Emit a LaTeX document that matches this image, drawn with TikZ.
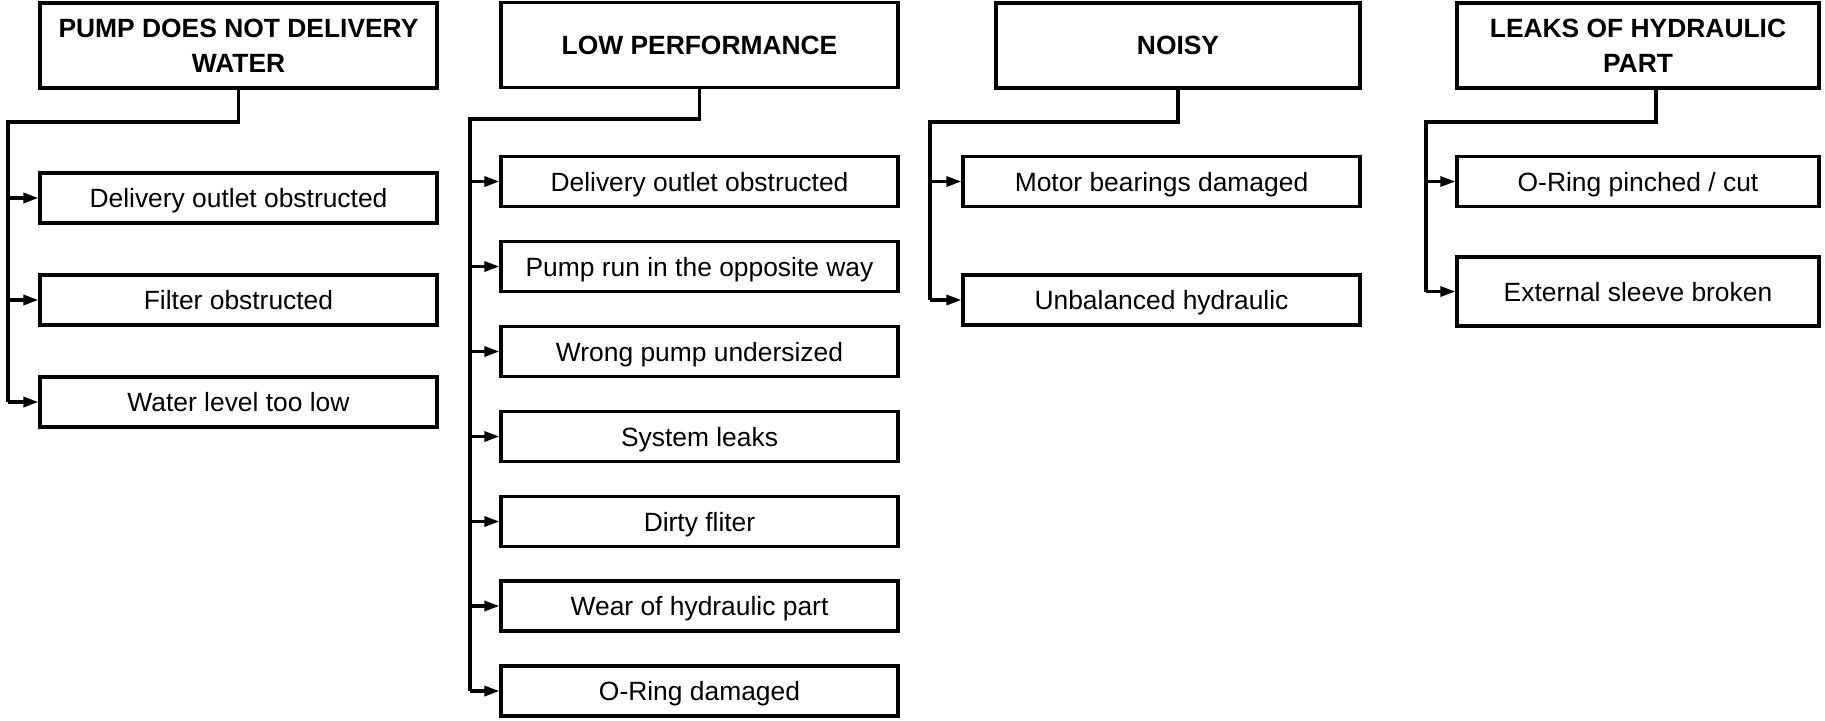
\documentclass[tikz,border=0pt]{standalone}
\usepackage{fontspec}
\setmainfont{Liberation Sans}
\usetikzlibrary{arrows.meta}
\begin{document}
\begin{tikzpicture}[x=0.5pt, y=-0.5pt,
        box/.style={draw, line width=1.6pt, minimum width=198.5pt, minimum height=25pt, inner sep=0pt, text height=9.5pt, text depth=0pt, font=\fontsize{13.2}{17.5}\selectfont},
        head/.style={draw, line width=1.6pt, minimum width=198.5pt, minimum height=42.5pt, inner sep=0pt, align=center, font=\fontsize{13.2}{17.5}\selectfont\bfseries},
        wire/.style={line width=1.6pt},
        arr/.style={wire, -{Triangle[length=7.5pt, width=5pt]}}]
                \useasboundingbox (0, 0) rectangle (1825, 720);
                % pump does not deliver
                \node [head] (pump) at (238.5, 45.5) {PUMP DOES NOT DELIVERY\\WATER};
                \node [box] (p1) at (238.5, 198) {Delivery outlet obstructed};
                \node [box] (p2) at (238.5, 300) {Filter obstructed};
                \node [box] (p3) at (238.5, 402) {Water level too low};
                \coordinate (bp) at (8, 122);
                \draw [wire] (pump.south) |- (bp) -- (bp |- p3.west);
                \foreach \c in {p1, p2, p3}
                    \draw [arr] (bp |- \c.west) -- (\c.west);
                % low performance
                \node [head] (low) at (699.5, 45) {LOW PERFORMANCE};
                \node [box] (l1) at (699.5, 181.5) {Delivery outlet obstructed};
                \node [box] (l2) at (699.5, 266.5) {Pump run in the opposite way};
                \node [box] (l3) at (699.5, 351.5) {Wrong pump undersized};
                \node [box] (l4) at (699.5, 436.5) {System leaks};
                \node [box] (l5) at (699.5, 521.5) {Dirty fliter};
                \node [box] (l6) at (699.5, 606) {Wear of hydraulic part};
                \node [box] (l7) at (699.5, 691) {O-Ring damaged};
                \coordinate (bl) at (470, 119);
                \draw [wire] (low.south) |- (bl) -- (bl |- l7.west);
                \foreach \c in {l1, l2, l3, l4, l5, l6, l7}
                    \draw [arr] (bl |- \c.west) -- (\c.west);
                % noisy
                \node [head, minimum width=182pt] (noisy) at (1178, 45.5) {NOISY};
                \node [box] (n1) at (1161.5, 181.5) {Motor bearings damaged};
                \node [box] (n2) at (1161.5, 300) {Unbalanced hydraulic};
                \coordinate (bn) at (930, 122);
                \draw [wire] (noisy.south) |- (bn) -- (bn |- n2.west);
                \foreach \c in {n1, n2}
                    \draw [arr] (bn |- \c.west) -- (\c.west);
                % leaks
                \node [head, minimum width=181pt] (leak) at (1638, 45.5) {LEAKS OF HYDRAULIC\\PART};
                \node [box, minimum width=181pt] (k1) at (1638, 181.5) {O-Ring pinched / cut};
                \node [box, minimum width=181pt, minimum height=34.5pt] (k2) at (1638, 291.5) {External sleeve broken};
                \coordinate (bk) at (1426, 122);
                \draw [wire] ([xshift=9pt]leak.south) |- (bk) -- (bk |- k2.west);
                \foreach \c in {k1, k2}
                    \draw [arr] (bk |- \c.west) -- (\c.west);
            \end{tikzpicture}
\end{document}
